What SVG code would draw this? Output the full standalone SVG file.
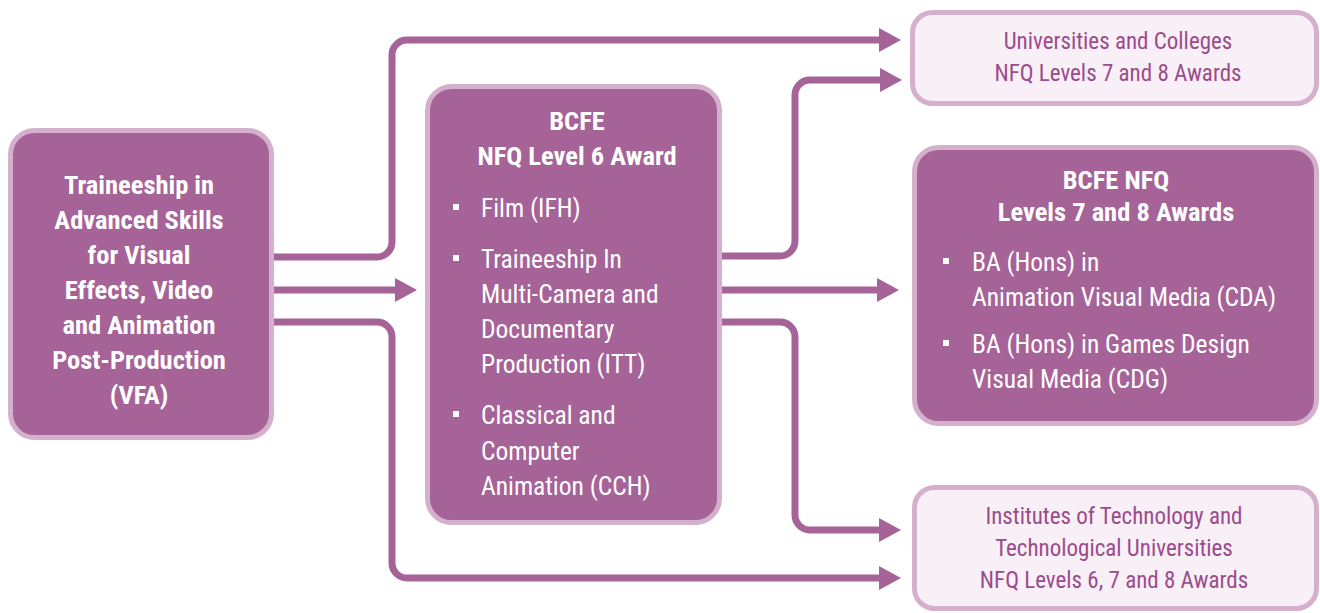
<svg xmlns="http://www.w3.org/2000/svg" width="1320" height="613" viewBox="0 0 1320 613">
<style>
.dark{fill:#a66398;stroke:#d5b0cd;stroke-width:5}
.light{fill:#f8f0f6;stroke:#d5b0cd;stroke-width:5}
.t{font-family:"Roboto Condensed","Liberation Sans Narrow","DejaVu Sans Condensed",sans-serif;font-size:25.5px;fill:#ffffff}
.b{font-weight:bold;font-size:26.5px}
.c{text-anchor:middle}
.lt{font-family:"Roboto Condensed","Liberation Sans Narrow","DejaVu Sans Condensed",sans-serif;font-size:23px;fill:#9b4b8c;text-anchor:middle}
.con{fill:none;stroke:#a66398;stroke-width:7}
.bul{fill:#ffffff}
</style>
<defs>
<marker id="ah" viewBox="0 0 22 24" refX="1" refY="12" markerWidth="22" markerHeight="24" orient="auto" markerUnits="userSpaceOnUse">
<path d="M0,0 L22,12 L0,24 z" fill="#a66398"/>
</marker>
</defs>
<g id="connectors">
<path class="con" marker-end="url(#ah)" d="M274,257 H377 A15,15 0 0 0 392,242 V55 A15,15 0 0 1 407,40 H880"/>
<path class="con" marker-end="url(#ah)" d="M274,290 H396"/>
<path class="con" marker-end="url(#ah)" d="M274,322 H377 A15,15 0 0 1 392,337 V563 A15,15 0 0 0 407,578 H880"/>
<path class="con" marker-end="url(#ah)" d="M722,256 H780 A15,15 0 0 0 795,241 V95 A15,15 0 0 1 810,80 H881"/>
<path class="con" marker-end="url(#ah)" d="M722,290 H878"/>
<path class="con" marker-end="url(#ah)" d="M722,322 H780 A15,15 0 0 1 795,337 V515 A15,15 0 0 0 810,530 H880"/>
</g>
<g id="vfa">
<rect class="dark" x="10.5" y="130.5" width="261" height="307" rx="24"/>
<text class="t b c" x="139" y="194">Traineeship in</text>
<text class="t b c" x="139" y="229">Advanced Skills</text>
<text class="t b c" x="139" y="264">for Visual</text>
<text class="t b c" x="139" y="299">Effects, Video</text>
<text class="t b c" x="139" y="334">and Animation</text>
<text class="t b c" x="139" y="369">Post-Production</text>
<text class="t b c" x="139" y="404">(VFA)</text>
</g>
<g id="bcfe6">
<rect class="dark" x="427.5" y="86.5" width="292" height="436" rx="24"/>
<text class="t b c" x="577" y="130">BCFE</text>
<text class="t b c" x="577" y="165">NFQ Level 6 Award</text>
<rect class="bul" x="453" y="204" width="6" height="6"/>
<text class="t" x="481" y="217">Film (IFH)</text>
<rect class="bul" x="453" y="255" width="6" height="6"/>
<text class="t" x="481" y="268">Traineeship In</text>
<text class="t" x="481" y="303">Multi-Camera and</text>
<text class="t" x="481" y="338">Documentary</text>
<text class="t" x="481" y="373">Production (ITT)</text>
<rect class="bul" x="453" y="411" width="6" height="6"/>
<text class="t" x="481" y="424">Classical and</text>
<text class="t" x="481" y="460">Computer</text>
<text class="t" x="481" y="495">Animation (CCH)</text>
</g>
<g id="universities">
<rect class="light" x="912.5" y="12.5" width="404" height="91" rx="20"/>
<text class="lt" x="1118" y="49">Universities and Colleges</text>
<text class="lt" x="1118" y="81">NFQ Levels 7 and 8 Awards</text>
</g>
<g id="bcfe78">
<rect class="dark" x="914.5" y="147.5" width="402" height="276" rx="24"/>
<text class="t b c" x="1116" y="189">BCFE NFQ</text>
<text class="t b c" x="1116" y="221">Levels 7 and 8 Awards</text>
<rect class="bul" x="943" y="258" width="6" height="6"/>
<text class="t" x="972" y="271">BA (Hons) in</text>
<text class="t" x="972" y="306">Animation Visual Media (CDA)</text>
<rect class="bul" x="943" y="340" width="6" height="6"/>
<text class="t" x="972" y="353">BA (Hons) in Games Design</text>
<text class="t" x="972" y="388">Visual Media (CDG)</text>
</g>
<g id="institutes">
<rect class="light" x="914.5" y="487.5" width="402" height="121" rx="20"/>
<text class="lt" x="1114" y="524">Institutes of Technology and</text>
<text class="lt" x="1114" y="556">Technological Universities</text>
<text class="lt" x="1114" y="588">NFQ Levels 6, 7 and 8 Awards</text>
</g>
</svg>
